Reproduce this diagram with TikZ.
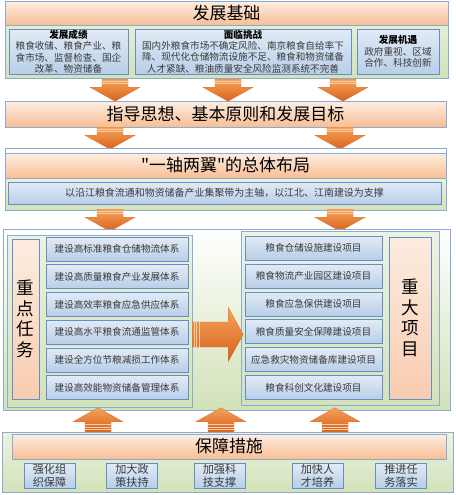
\documentclass[tikz,border=0pt]{standalone}
\usepackage{fontspec}
\setmainfont{Noto Sans CJK SC}
\newfontfamily\plaincjk{Noto Sans CJK SC}
\XeTeXlinebreaklocale "zh"
\usetikzlibrary{calc}
\definecolor{HdrTop}{RGB}{253,238,226}
\definecolor{HdrBot}{RGB}{248,190,148}
\definecolor{EdgeBlue}{RGB}{140,170,210}
\definecolor{BoxTop}{RGB}{226,235,246}
\definecolor{BoxBot}{RGB}{184,206,232}
\definecolor{BoxEdge}{RGB}{100,142,196}
\definecolor{LeafTop}{RGB}{236,243,226}
\definecolor{LeafBot}{RGB}{210,226,184}
\definecolor{PinkTop}{RGB}{253,236,224}
\definecolor{PinkBot}{RGB}{249,204,176}
\definecolor{ArrTop}{RGB}{246,162,88}
\definecolor{ArrBot}{RGB}{214,98,30}
\definecolor{ArrEdge}{RGB}{222,118,50}
\definecolor{Stripe}{RGB}{252,206,168}
\definecolor{TxtGray}{RGB}{58,58,58}
\newdimen\px \px=0.03cm
\newcommand\ttl[1]{\textcolor{black}{\textbf{#1}}}
\tikzset{
  sz/.style 2 args={minimum width=#1\px,minimum height=#2\px},
  hdr/.style={draw=EdgeBlue,top color=HdrTop,bottom color=HdrBot,inner sep=0pt,
    font=\plaincjk\fontsize{14.5}{16}\selectfont},
  leaf/.style={draw=EdgeBlue,top color=LeafTop,bottom color=LeafBot,inner sep=0pt},
  pale/.style={draw=EdgeBlue,top color=white,bottom color=LeafBot,inner sep=0pt},
  cell/.style={draw=BoxEdge,top color=BoxTop,bottom color=BoxBot,inner sep=0pt,
    text=TxtGray,align=center,font=\fontsize{8.2}{9.8}\selectfont},
  tall/.style={draw=BoxEdge,top color=PinkTop,bottom color=PinkBot,inner sep=0pt,
    align=center,font=\fontsize{15}{17.5}\selectfont},
  barrow/.style={draw=ArrEdge,line width=0.3pt,top color=ArrTop,bottom color=ArrBot},
  stripe/.style={draw=Stripe,line width=0.6pt},
}
\tikzset{
  darrow/.pic={
    \shade[barrow] (-13,0) -- (13,0) -- (13,8) -- (25,8) -- (0,22) -- (-25,8) -- (-13,8) -- cycle;
    \draw[stripe] (-13,2) -- (13,2) (-13,4.5) -- (13,4.5);
  },
  uarrow/.pic={
    \shade[barrow] (0,0) -- (25,14) -- (13,14) -- (13,24) -- (-13,24) -- (-13,14) -- (-25,14) -- cycle;
    \draw[stripe] (-13,17) -- (13,17) (-13,19.5) -- (13,19.5) (-13,22) -- (13,22);
  },
  rarrow/.pic={
    \shade[barrow] (0,-12.5) -- (36,-12.5) -- (36,-27) -- (51,0) -- (36,27) -- (36,12.5) -- (0,12.5) -- cycle;
    \draw[stripe] (2,-12.5) -- (2,12.5) (4.5,-12.5) -- (4.5,12.5) (7,-12.5) -- (7,12.5);
  },
}
\begin{document}
\begin{tikzpicture}[x=\px,y=-\px]
\useasboundingbox (0,0) rectangle (456,495);
% 发展基础
\node[leaf,sz={443}{77}] (jichu) at (226.5,39.5) {};
\node[hdr,sz={443}{24}] (jichuhdr) at (226.5,13) {发展基础};
\node[cell,sz={119}{45}] (chengji) at (68.5,51.5)
  {\ttl{发展成绩}\\粮食收储、粮食产业、粮\\食市场、监督检查、国企\\改革、物资储备};
\node[cell,sz={216}{45}] (tiaozhan) at (243,51.5)
  {\ttl{面临挑战}\\国内外粮食市场不确定风险、南京粮食自给率下\\降、现代化仓储物流设施不足、粮食和物资储备\\人才紧缺、粮油质量安全风险监测系统不完善};
\node[cell,sz={82}{45}] (jiyu) at (398,51.5)
  {\ttl{发展机遇}\\政府重视、区域\\合作、科技创新};
\pic at ($(jichu.south)+(-111.5,1)$) {darrow};
\pic at ($(jichu.south)+(1.5,1)$) {darrow};
\pic at ($(jichu.south)+(116.5,1)$) {darrow};
% 指导思想
\node[hdr,sz={441}{26}] (zhidao) at (225.5,114) {指导思想、基本原则和发展目标};
\pic at ($(zhidao.south)+(-115.5,0)$) {darrow};
\pic at ($(zhidao.south)+(114.5,0)$) {darrow};
% 总体布局
\node[pale,sz={441}{62}] (buju) at (225.5,179) {};
\node[hdr,sz={441}{25}] (bujuhdr) at (225.5,165.5) {"一轴两翼"的总体布局};
\node[cell,sz={433}{22},font=\fontsize{8.5}{10}\selectfont] (zhuzhou) at (224.5,193)
  {以沿江粮食流通和物资储备产业集聚带为主轴，以江北、江南建设为支撑};
\pic at ($(buju.south)+(-115.5,-1)$) {darrow};
\pic at ($(buju.south)+(114.5,-1)$) {darrow};
% 重点任务 / 重大项目
\node[pale,sz={447}{181}] (zhong) at (226.5,319.5) {};
\node[leaf,sz={185}{172}] (renwu) at (99.5,321) {};
\node[leaf,sz={198}{174}] (xiangmu) at (340,318) {};
\node[tall,sz={27}{160}] (renwuhdr) at (25.5,319) {重\\点\\任\\务};
\node[tall,sz={42}{162}] (xiangmuhdr) at (410,318) {重\\大\\项\\目};
\foreach \t [count=\i from 0] in {建设高标准粮食仓储物流体系,建设高质量粮食产业发展体系,
  建设高效率粮食应急供应体系,建设高水平粮食流通监管体系,
  建设全方位节粮减损工作体系,建设高效能物资储备管理体系}
  \node[cell,sz={142}{24}] (task\i) at (117,{249+27.7*\i}) {\t};
\foreach \t [count=\i from 0] in {粮食仓储设施建设项目,粮食物流产业园区建设项目,
  粮食应急保供建设项目,粮食质量安全保障建设项目,
  应急救灾物资储备库建设项目,粮食科创文化建设项目}
  \node[cell,sz={137}{24}] (proj\i) at (313.5,{248+27.9*\i}) {\t};
\pic at ($(renwu.east)+(0,13.5)$) {rarrow};
% 保障措施
\node[leaf,sz={451}{60}] (baozhang) at (227.5,462) {};
\node[hdr,sz={434}{25}] (baozhanghdr) at (229,446.5) {保障措施};
\foreach \t/\x [count=\i] in {强化组\\织保障/49.5,加大政\\策扶持/132,加强科\\技支撑/219.5,
  加快人\\才培养/317.5,推进任\\务落实/401}
  \node[cell,sz={51}{25},font=\fontsize{9.5}{11}\selectfont] (cuoshi\i) at (\x,475.5) {\t};
\pic at ($(baozhang.north)+(-129.5,-24)$) {uarrow};
\pic at ($(baozhang.north)+(-6.5,-24)$) {uarrow};
\pic at ($(baozhang.north)+(107.5,-24)$) {uarrow};
\end{tikzpicture}
\end{document}
